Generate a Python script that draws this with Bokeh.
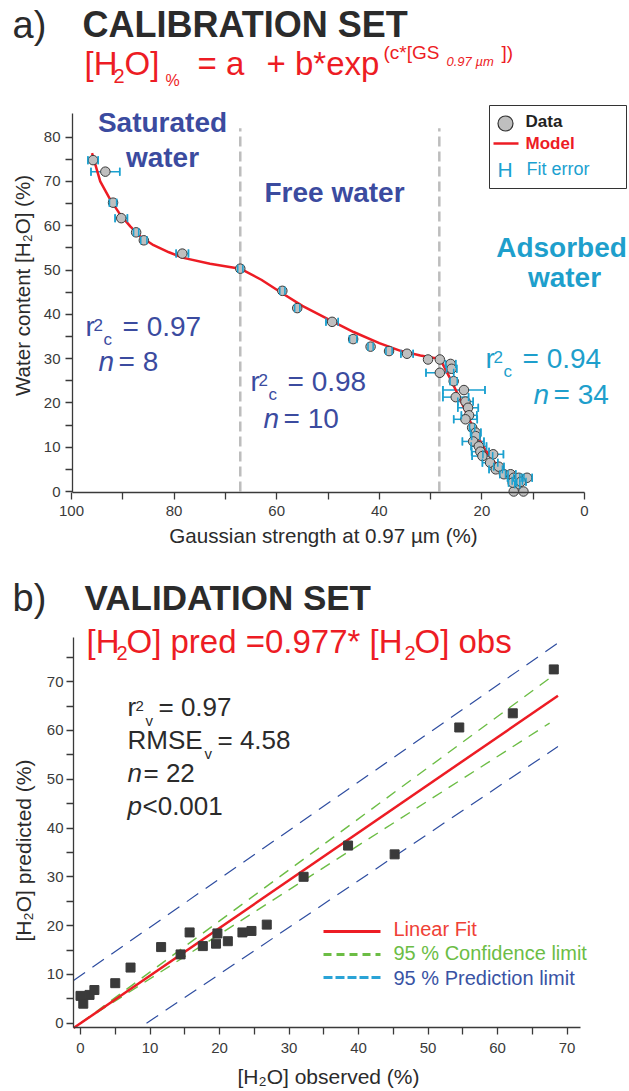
from bokeh.plotting import figure
from bokeh.models import Range1d, FixedTicker, Label, Whisker, TeeHead, ColumnDataSource
from bokeh.layouts import column
from bokeh.embed import file_html
from bokeh.resources import INLINE

FONT = "Liberation Sans"

# ---------------- data: panel a (calibration set) ----------------
sat_gs = [95.8, 93.4, 91.9, 90.3, 87.4, 85.9, 78.4, 67.1]
sat_h2o = [74.8, 72.2, 65.2, 61.7, 58.5, 56.7, 53.7, 50.3]
sat_err = [1.0, 2.8, 0.7, 1.2, 0.5, 0.6, 1.2, 0.5]

free_gs = [58.9, 56.0, 49.2, 45.1, 41.7, 38.1, 34.6, 30.5, 28.2]
free_h2o = [45.3, 41.4, 38.3, 34.4, 32.7, 31.7, 31.1, 29.8, 29.8]
free_err = [0.5, 0.5, 1.2, 0.7, 0.5, 0.6, 1.2, 0.0, 0.0]

ads_gs = [26.1, 25.9, 28.2, 25.5, 23.5, 25.1, 23.2, 22.7, 22.5, 23.2,
          21.9, 21.2, 21.2, 21.7, 20.6, 20.3, 17.8, 19.9, 18.4, 17.3,
          16.7, 15.7, 14.4, 13.8, 13.1, 12.8, 11.2, 13.1, 13.8, 11.9,
          14.0, 12.4]
ads_h2o = [28.8, 27.7, 26.8, 24.9, 22.9, 21.3, 20.3, 18.9, 17.2, 16.3,
           14.4, 13.3, 12.5, 11.3, 10.2, 9.0, 8.4, 8.0, 6.5, 5.0,
           5.6, 3.9, 3.9, 3.1, 2.4, 3.1, 3.1, 1.6, 0.0, 0.0,
           2.0, 2.2]
ads_err = [1.0, 1.0, 2.7, 0.7, 4.1, 2.5, 1.5, 2.0, 1.5, 2.3,
           0.5, 1.0, 0.8, 2.1, 1.5, 1.7, 2.0, 2.0, 1.5, 1.3,
           1.0, 0.8, 1.0, 1.2, 1.0, 1.0, 1.0, 0.5, 0.0, 0.0,
           0.8, 1.0]

model_gs = [96.0, 94.4, 92.5, 90.5, 88.5, 86.5, 84.0, 81.0, 78.4, 73.0,
            67.1, 63.0, 59.0, 55.0, 50.0, 45.0, 40.0, 36.0, 32.0, 29.5,
            28.2, 27.2, 26.1, 25.0, 24.0, 22.9, 21.9, 20.9, 19.8, 18.6,
            17.4, 16.2, 14.8, 13.5, 12.5]
model_h2o = [76.4, 70.0, 66.0, 62.5, 59.8, 57.5, 55.6, 54.0, 52.8, 51.4,
             50.3, 47.8, 44.8, 41.9, 38.9, 36.0, 33.5, 31.8, 30.7, 30.2,
             30.0, 27.8, 25.3, 22.7, 20.2, 17.4, 14.9, 12.6, 10.2, 8.2,
             6.4, 5.0, 3.9, 3.1, 2.6]

zone_bounds = [67.1, 28.3]

a_xticks = list(range(0, 101, 10))
a_xlabeled = [0, 20, 40, 60, 80, 100]
a_yticks = list(range(0, 81, 5))
a_ylabeled = list(range(0, 81, 10))

# ---------------- data: panel b (validation set) ----------------
obs = [0.0, 0.4, 1.3, 2.0, 5.0, 7.2, 11.6, 14.4, 15.7, 17.6, 19.5,
       19.7, 21.2, 23.3, 24.6, 26.8, 32.1, 38.5, 45.2, 54.5, 62.2, 68.1]
pred = [5.6, 4.0, 5.8, 6.8, 8.2, 11.4, 15.6, 14.1, 18.6, 15.8, 16.3,
        18.4, 16.8, 18.6, 18.9, 20.2, 30.0, 36.4, 34.6, 60.6, 63.5, 72.5]

fit_obs = [-1.0, 68.7]
fit_pred = [-1.0, 67.1]
conf_obs = [0.0, 67.5]
conf_upper = [0.0, 70.7]
conf_lower = [0.0, 61.5]
predlim_up_obs = [-1.0, 68.7]
predlim_up = [8.75, 77.9]
predlim_lo_obs = [9.5, 68.7]
predlim_lo = [0.0, 56.7]

b_ticks = list(range(0, 71, 5))
b_yticks = list(range(0, 76, 5))
b_labeled = list(range(0, 71, 10))

# ---------------- colours ----------------
RED = "#ED1C24"
DARK = "#2B2B2B"
REG_BLUE = "#3B4B9F"
ADS = "#1E9FCC"
ERR = "#1BA1D0"
AXC = "#3A3A3A"

# ---------------- layout geometry (page px) ----------------
W = 629
HA = 548
HB = 1091 - HA

A_XPX, A_YPX = 5.13, 4.43
A_X0PX, A_Y0PX = 584.0, 491.0


def ax(px):
    return (A_X0PX - px) / A_XPX


def ay(py):
    return (A_Y0PX - py) / A_YPX


B_XPX, B_YPX = 6.95, 4.88
B_X0PX, B_Y0PX = 80.0, 1022.7


def bx(px):
    return (px - B_X0PX) / B_XPX


def by(py):
    return (B_Y0PX - py) / B_YPX


def lab(p, fx, fy, px, base, text, size, color, style="normal", align="left"):
    # base = wanted alphabetic baseline (page px); text is anchored by its middle
    p.add_layout(Label(x=fx(px), y=fy(base - 0.36 * size), text=text, text_font=FONT,
                       text_font_size=f"{size}px", text_color=color,
                       text_font_style=style, text_align=align,
                       text_baseline="middle"))


def vlab(p, fx, fy, px, py, text, size, color):
    p.add_layout(Label(x=fx(px), y=fy(py), text=text, text_font=FONT,
                       text_font_size=f"{size}px", text_color=color,
                       angle=90, angle_units="deg",
                       text_align="center", text_baseline="middle"))


def style_axis(axis, ticks, labeled, bounds, loc, standoff):
    axis.fixed_location = loc
    axis.ticker = FixedTicker(ticks=ticks)
    axis.major_label_overrides = {t: "" for t in ticks if t not in labeled}
    axis.bounds = bounds
    axis.axis_label = None
    axis.major_label_text_font = FONT
    axis.major_label_text_font_size = "15px"
    axis.major_label_text_color = AXC
    axis.major_label_standoff = standoff
    axis.axis_line_color = AXC
    axis.axis_line_width = 1.3
    axis.major_tick_line_color = AXC
    axis.major_tick_line_width = 1.3
    axis.major_tick_in = 0
    axis.major_tick_out = 7
    axis.minor_tick_line_color = None


def make_fig(h, xr, yr):
    p = figure(width=W, height=h, title=None, x_range=xr, y_range=yr,
               min_border_left=0, min_border_right=0, min_border_top=0,
               min_border_bottom=0, output_backend="svg", toolbar_location=None)
    p.outline_line_color = None
    p.grid.visible = False
    return p


# ================= panel a =================
pa = make_fig(HA, Range1d(ax(0), ax(W)), Range1d(ay(HA), ay(0)))
A_YTOP = 85.3
A_XAX = ay(491.5)
A_YAX = ax(72)
style_axis(pa.xaxis[0], a_xticks, a_xlabeled, (0, A_YAX), A_XAX, 7)
style_axis(pa.yaxis[0], a_yticks, a_ylabeled, (A_XAX, A_YTOP), A_YAX, 5)

# zone boundaries
pa.segment(x0=zone_bounds, x1=zone_bounds, y0=[0, 0], y1=[A_YTOP - 3.3] * 2,
           line_color="#BDBDBD", line_width=2.5, line_dash="10 5")

all_gs = sat_gs + free_gs + ads_gs
all_h2o = sat_h2o + free_h2o + ads_h2o
all_err = sat_err + free_err + ads_err
eg = [g for g, e in zip(all_gs, all_err) if e > 0]
eh = [h for h, e in zip(all_h2o, all_err) if e > 0]
ee = [e for e in all_err if e > 0]
esrc = ColumnDataSource(dict(y=eh, lo=[g - e for g, e in zip(eg, ee)],
                             hi=[g + e for g, e in zip(eg, ee)]))
pa.add_layout(Whisker(source=esrc, base="y", lower="lo", upper="hi",
                      dimension="width", line_color=ERR, line_width=1.5,
                      upper_head=TeeHead(size=8, line_color=ERR, line_width=1.5),
                      lower_head=TeeHead(size=8, line_color=ERR, line_width=1.5),
                      level="underlay"))

pa.line(model_gs, model_h2o, line_color=RED, line_width=2.5)
pa.scatter(all_gs, all_h2o, marker="circle", size=9.5, fill_color="#BFBFBF",
           line_color="#3A3A3A", line_width=1)
pa.scatter(esrc.data["lo"] + esrc.data["hi"], eh + eh, marker="dash", angle=1.5708,
           size=8, line_color=ERR, line_width=1.5)

# axis titles
lab(pa, ax, ay, 323, 542, "Gaussian strength at 0.97 µm (%)", 20.6, DARK, align="center")
vlab(pa, ax, ay, 22, 285, "Water content [H₂O] (%)", 20.6, DARK)

# titles
lab(pa, ax, ay, 12, 38, "a)", 38, DARK)
lab(pa, ax, ay, 82, 37, "CALIBRATION SET", 36, DARK, "bold")
lab(pa, ax, ay, 84, 75, "[H", 33, RED)
lab(pa, ax, ay, 113, 83, "2", 20, RED)
lab(pa, ax, ay, 124, 75, "O]", 33, RED)
lab(pa, ax, ay, 165, 86, "%", 16, RED)
lab(pa, ax, ay, 197, 75, "= a", 33, RED)
lab(pa, ax, ay, 266, 75, "+ b*exp", 33, RED)
lab(pa, ax, ay, 383, 59, "(c*[GS", 19, RED)
lab(pa, ax, ay, 446, 66, "0.97 µm", 13, RED, "italic")
lab(pa, ax, ay, 501, 59, "])", 19, RED)

# region names
lab(pa, ax, ay, 162, 132, "Saturated", 28, REG_BLUE, "bold", "center")
lab(pa, ax, ay, 162, 167, "water", 28, REG_BLUE, "bold", "center")
lab(pa, ax, ay, 334, 202, "Free water", 28, REG_BLUE, "bold", "center")
lab(pa, ax, ay, 561, 257, "Adsorbed", 28, ADS, "bold", "center")
lab(pa, ax, ay, 564, 287, "water", 28, ADS, "bold", "center")


def r2_block(p, fx, fy, x, base, sub, val, color, size, small, sub_dx, eq_dx):
    lab(p, fx, fy, x, base, "r", size, color)
    lab(p, fx, fy, x + 8, base - 5, "2", small, color)
    lab(p, fx, fy, x + sub_dx, base + 9, sub, small, color)
    lab(p, fx, fy, x + eq_dx, base, "= " + val, size, color)


def n_block(p, fx, fy, x, base, val, color, size, eq_dx):
    lab(p, fx, fy, x, base, "n", size, color, "italic")
    lab(p, fx, fy, x + eq_dx, base, "= " + val, size, color)


r2_block(pa, ax, ay, 85, 336, "c", "0.97", REG_BLUE, 28, 17, 18, 37)
n_block(pa, ax, ay, 98, 371, "8", REG_BLUE, 28, 20)
r2_block(pa, ax, ay, 250, 391, "c", "0.98", REG_BLUE, 28, 17, 18, 37)
n_block(pa, ax, ay, 263, 428, "10", REG_BLUE, 28, 20)
r2_block(pa, ax, ay, 485, 368, "c", "0.94", ADS, 28, 17, 18, 37)
n_block(pa, ax, ay, 533, 404, "34", ADS, 28, 20)

# legend (panel a)
pa.quad(left=[ax(489)], right=[ax(626)], top=[ay(105)], bottom=[ay(188)],
        fill_color="white", line_color="#333333", line_width=1)
pa.scatter([ax(505)], [ay(123)], marker="circle", size=15, fill_color="#BFBFBF",
           line_color="#333333", line_width=1.2)
lab(pa, ax, ay, 525, 127, "Data", 17, "#222222", "bold")
pa.segment(x0=[ax(493)], x1=[ax(518)], y0=[ay(143)], y1=[ay(143)],
           line_color=RED, line_width=2.5)
lab(pa, ax, ay, 525, 149, "Model", 17, RED, "bold")
lab(pa, ax, ay, 497, 177, "H", 21, ERR)
lab(pa, ax, ay, 526, 175, "Fit error", 18, ERR)

# ================= panel b =================
pb = make_fig(HB, Range1d(bx(0), bx(W)), Range1d(by(1091), by(HA)))
B_XAX = by(1027)
B_YAX = bx(73)
style_axis(pb.xaxis[0], b_ticks, b_labeled, (B_YAX, 72), B_XAX, 8)
style_axis(pb.yaxis[0], b_yticks, b_labeled, (B_XAX, 79), B_YAX, 3)

PRED_BLUE = "#2E4DA0"
GREEN = "#6CBD45"
pb.line(predlim_up_obs, predlim_up, line_color=PRED_BLUE, line_width=1.2, line_dash="14 9")
pb.line(predlim_lo_obs, predlim_lo, line_color=PRED_BLUE, line_width=1.2, line_dash="14 9")
pb.line(conf_obs, conf_upper, line_color=GREEN, line_width=1.4, line_dash="11 8")
pb.line(conf_obs, conf_lower, line_color=GREEN, line_width=1.4, line_dash="11 8")
pb.line(fit_obs, fit_pred, line_color=RED, line_width=2.5)
pb.scatter(obs, pred, marker="square", size=9, fill_color="#3A3A3A", line_color="#3A3A3A")

lab(pb, bx, by, 328, 1084, "[H₂O] observed (%)", 21, DARK, align="center")
vlab(pb, bx, by, 23, 850, "[H₂O] predicted (%)", 21, DARK)

lab(pb, bx, by, 12, 611, "b)", 38, DARK)
lab(pb, bx, by, 84, 610, "VALIDATION SET", 35, DARK, "bold")
lab(pb, bx, by, 86, 653, "[H", 33, RED)
lab(pb, bx, by, 116, 660, "2", 20, RED)
lab(pb, bx, by, 126, 653, "O] pred =0.977* [H", 33, RED)
lab(pb, bx, by, 404, 660, "2", 20, RED)
lab(pb, bx, by, 414, 653, "O] obs", 33, RED)

r2_block(pb, bx, by, 127, 716, "v", "0.97", DARK, 26, 15, 18, 31)
lab(pb, bx, by, 127, 749, "RMSE", 26, DARK)
lab(pb, bx, by, 204, 758, "v", 15, DARK)
lab(pb, bx, by, 217, 749, "= 4.58", 26, DARK)
n_block(pb, bx, by, 127, 782, "22", DARK, 26, 16)
lab(pb, bx, by, 127, 815, "p", 26, DARK, "italic")
lab(pb, bx, by, 142, 815, "<0.001", 26, DARK)

# legend (panel b)
pb.segment(x0=[bx(323)], x1=[bx(380)], y0=[by(931)], y1=[by(931)], line_color=RED, line_width=3)
pb.segment(x0=[bx(323)], x1=[bx(380)], y0=[by(954)], y1=[by(954)], line_color=GREEN,
           line_width=3, line_dash="8 5")
pb.segment(x0=[bx(323)], x1=[bx(380)], y0=[by(977)], y1=[by(977)], line_color="#2AA3D6",
           line_width=3, line_dash="9 3")
lab(pb, bx, by, 393, 936, "Linear Fit", 20, "#EF4136")
lab(pb, bx, by, 393, 960, "95 % Confidence limit", 20, GREEN)
lab(pb, bx, by, 393, 985, "95 % Prediction limit", 20, "#3953A4")

layout = column(pa, pb, spacing=0)
open("out.html", "w").write(file_html(layout, INLINE))
